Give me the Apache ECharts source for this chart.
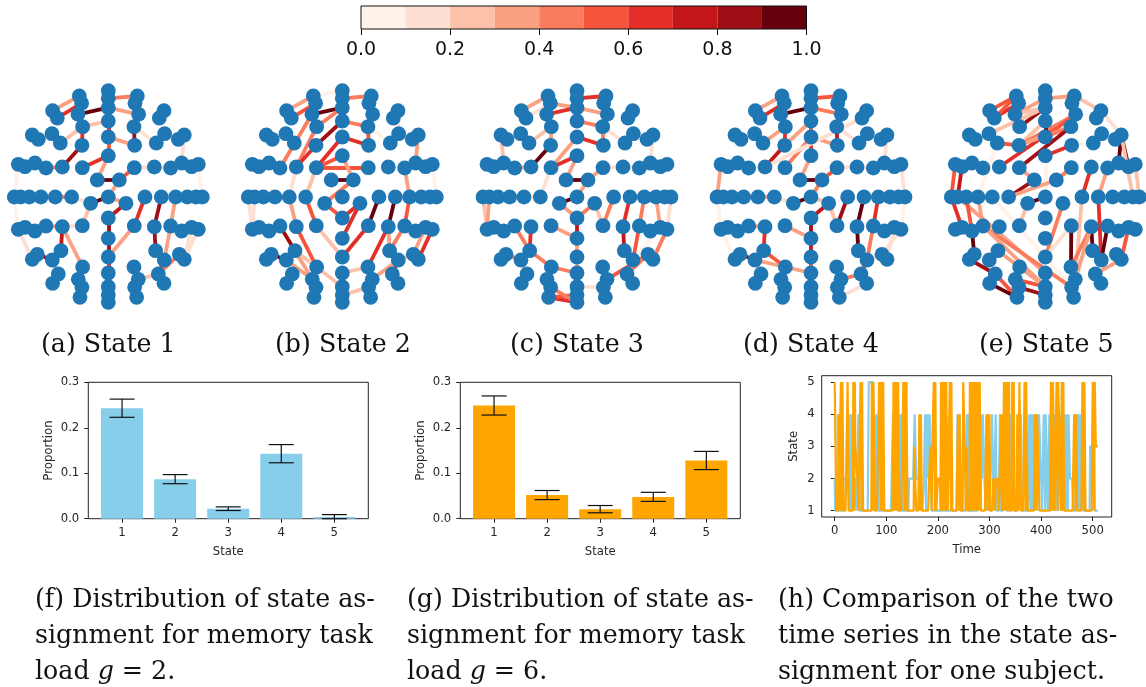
<!DOCTYPE html>
<html><head><meta charset="utf-8">
<style>html,body{margin:0;padding:0;background:#fff}#c{width:1146px;height:687px}</style>
<script src="https://cdn.jsdelivr.net/npm/echarts@6/dist/echarts.min.js"></script>
</head><body><div id="c"></div>
<script>
// ---------- colour bar ----------
const colorBins = [0,0.1,0.2,0.3,0.4,0.5,0.6,0.7,0.8,0.9];
const redsPalette = ['#fff2eb','#fee0d2','#fdc1a9','#fca082','#fb7c5c','#f6553c','#e32f27','#c2161b','#9f0e14','#67000d'];
const colorTicks = [0,0.2,0.4,0.6,0.8,1];

// ---------- electrode layout: [key, offset from midline, depth] ----------
const midNodes = [62,85,113,153,201,257,381,444,505,561,609,650,675,697];
const sideNodes = [['a',87,78],['b',80,100],['c',91,133],['d',77,170],['e',79,226],['f',167,122],['g',153,144],
 ['h',228,195],['i',210,208],['j',169,191],['k',144,219],
 ['l',270,283],['m',250,290],['n',220,279],['o',187,294],['p',138,291],['q',78,293],['r',33,330],
 ['s',282,381],['t',263,381],['u',237,381],['v',202,381],['w',159,381],['x',110,381],['y',53,400],
 ['A',270,478],['B',250,472],['C',220,483],['D',187,468],['E',138,470],['F',78,467],
 ['G',142,542],['H',168,570],['I',213,553],['J',228,568],
 ['K',77,591],['L',90,628],['M',79,652],['N',85,682],['O',150,612],['P',167,640]];

// ---------- connections per state: [from, to, strength] ----------
const state1 = [['La','Lf',.35],['Lb','Lg',.65],['Lc','M2',.95],['M1','Ra',.45],['M2','Rc',.35],['Ld','M3',.25],['M3','M4',.6],['M4','M5',.55],
 ['M4','Re',.35],['Rd','Re',.8],['Rd','Rk',.15],['Ld','Le',.65],['Ld','Lk',.25],['Le','Lp',.8],['M5','Lq',.65],['M5','Lr',.3],['Lr','Rr',.98],
 ['Rr','Rq',.55],['Rr','M6',.35],['Rq','Rp',.15],['Rp','Ro',.15],['Lo','Lp',.45],['Rh','Rn',.15],['Ll','Ls',.05],['Rl','Rs',.08],['Ls','LA',.05],
 ['LA','LJ',.1],['Lv','Lw',.35],['Lw','Lx',.4],['Lx','Ly',.15],['Ly','M6',.95],['M6','Ry',.3],['Ry','M7',.75],['Ly','LF',.2],['LE','LF',.12],
 ['LE','LG',.7],['LE','LK',.3],['LD','LE',.3],['LH','LI',.85],['LH','LO',.2],['M7','M8',.85],['M8','M9',.8],['M9','M10',.6],['M9','RF',.3],
 ['Rx','RF',.65],['Rw','RE',.85],['RE','RG',.8],['Rv','RD',.3],['RD','RH',.3],['RH','RO',.6],['RO','RI',.4],['RB','RJ',.12],['RA','RJ',.1],['RL','RO',.25]];
const state2 = [['La','Lf',.3],['Lb','Lg',.55],['La','M0',.05],['Lc','M2',.9],['Ld','M2',.4],['Lc','Lo',.4],['Lp','Ld',.45],['Lp','Le',.6],['M3','Le',.85],
 ['M1','Ra',.45],['M3','Rd',.45],['M4','Re',.6],['Rd','Re',.5],['Rd','Rk',.05],['Rf','Rj',.1],['Rh','Rn',.3],['M4','Lq',.65],['M5','Lq',.55],['Lq','Rq',.55],
 ['M5','Rr',.3],['Lr','Rr',.98],['Rr','Ly',.45],['Lq','Lx',.25],['Lp','Lw',.1],['Lw','LE',.35],['Lx','LF',.55],['LF','M9',.25],['LE','LK',.55],['Ly','M7',.5],
 ['M7','Ry',.6],['Ry','M8',.6],['M9','RF',.65],['Rx','RF',.98],['Rw','RE',.98],['RE','RK',.65],['RE','RG',.3],['Rv','RD',.55],['RD','RG',.45],['RK','M10',.25],
 ['RL','RH',.35],['RH','RO',.6],['RH','RI',.2],['RB','RI',.35],['RA','RJ',.6],['Ro','Rv',.3],['Rl','Rs',.08],['Ls','LA',.15],['Lt','LA',.1],['LD','LG',.8],
 ['LG','LL',.3],['LH','LL',.3],['LG','M11',.2],['LH','LI',.9],['M12','RM',.25]];
const state3 = [['La','Lf',.3],['Lb','Lg',.1],['Lb','M2',.35],['Lc','M2',.65],['M1','Ra',.65],['M2','Rc',.35],['M3','Rd',.45],['M4','Re',.65],['Rd','Re',.4],
 ['Rd','Rk',.15],['Ld','Lk',.25],['Ld','Le',.3],['Le','Lp',.9],['M4','Lq',.3],['M5','Lq',.65],['M5','Lr',.3],['Lr','Rr',.98],['Rr','Rq',.35],['Rr','M6',.3],
 ['Lq','Lx',.12],['Lw','Lx',.15],['Ly','M6',.9],['Ly','M7',.3],['M7','Ry',.4],['Ry','RF',.25],['Rx','RF',.45],['Rw','RE',.6],['RE','RG',.75],['Rv','RD',.4],
 ['RD','RH',.5],['Ru','RB',.3],['Rs','RA',.15],['Ls','LA',.2],['Lt','LA',.3],['M7','M8',.7],['M8','M9',.3],['M9','M10',.35],['LF','M8',.3],['LD','LG',.4],
 ['LE','LG',.65],['LG','LK',.4],['LK','M10',.4],['LG','LH',.3],['LH','LI',.45],['LH','LO',.15],['RL','RI',.55],['RO','RI',.45],['RA','RJ',.45],['RH','RB',.05],
 ['M11','RM',.12],['LN','M13',.6],['LN','M12',.5],['LM','M13',.45],['Lh','Ln',.25],['Rh','Rn',.12],['Lo','Lp',.35],['Rp','Ro',.12],['Rq','Rp',.1]];
const state4 = [['La','Lf',.35],['Lb','Lg',.65],['Lc','M2',.95],['M1','Ra',.55],['M2','Rc',.4],['Ld','Lk',.3],['Ld','Le',.6],['M3','Le',.35],['Le','Lp',.7],['M4','Lq',.45],
 ['M4','M5',.6],['M5','Lr',.35],['M3','M4',.5],['M4','Re',.35],['Rd','Re',.7],['Rd','Rk',.15],['Lp','Rg',.1],['Lr','Rr',.98],['Rr','Rq',.5],['Rr','M6',.4],['Rq','Rp',.12],
 ['Rp','Ro',.12],['Rh','Rn',.15],['Ll','Ls',.3],['Ls','LA',.08],['LA','LJ',.07],['Rl','Rs',.1],['Rs','RA',.08],['Lv','Lw',.3],['Lw','Lx',.3],['Lx','Ly',.12],['Ly','M6',.95],
 ['M6','Ry',.2],['Ry','M7',.7],['Ry','RF',.2],['Rx','RF',.8],['Rw','RE',.9],['RE','RG',.9],['Rv','RD',.6],['RD','RH',.4],['RH','RO',.5],['RH','RI',.1],['RB','RJ',.15],['RA','RI',.1],
 ['LE','LG',.65],['LD','LE',.3],['LH','LI',.85],['LG','LK',.55],['LH','LK',.3],['LK','M10',.3],['LF','M8',.3],['M7','M8',.8],['M8','M9',.7],['M9','M10',.55],['RL','RO',.4],['RN','RP',.12],['LH','LO',.2]];
const state5 = [['La','Lf',.55],['Lb','Lg',.65],['La','Lg',.5],['M1','Lc',.3],['M2','Lc',.2],['M2','Ld',.8],['M2','Lj',.25],['Lk','Le',.55],['Le','M3',.25],['M1','Ra',.35],['Ra','Rf',.2],
 ['Rf','Rh',.15],['Rh','Rn',.98],['Rh','Rm',.95],['Rh','Rt',.2],['Rl','Rs',.2],['Rc','Lp',.65],['Rc','Le',.4],['Rc','M4',.55],['Rd','Le',.35],['Rd','M4',.4],['Rd','Lq',.85],['M3','M4',.95],
 ['M5','Re',.6],['Re','Rk',.05],['M5','M6',.05],['Lq','Lr',.3],['Lr','Lx',.8],['Rr','Lx',.3],['Rr','Rq',.45],['Rp','Rx',.65],['Ro','Rw',.3],['Rw','RH',.6],['Ly','M6',.95],['Ly','LF',.2],
 ['Ry','M9',.4],['M9','RF',.15],['Rx','RL',.25],['RF','RK',.98],['RE','RK',.4],['RE','RG',.9],['RE','RL',.35],['RD','RH',.9],['RB','RJ',.55],['RJ','RO',.3],
 ['Ll','Ls',.55],['Lm','Lt',.7],['Ls','LB',.6],['Lt','M10',.35],['Lu','LC',.5],['LC','LB',.45],['LC','LI',.98],['LJ','LO',.85],['LO','LN',.55],['LM','M12',.85],['LP','LN',.95],['LL','M11',.5],
 ['Lw','RM',.08],['Lk','Lv',.08],['Lv','LD',.35],['LD','RM',.4],['LD','M11',.35],['LG','M11',.3]];
const allStates = [state1,state2,state3,state4,state5];

// ---------- bar charts ----------
const stateLabels = [1,2,3,4,5];
const meanLoad2 = [0.243,0.087,0.022,0.143,0.004];
const errLoad2  = [0.020,0.010,0.004,0.020,0.005];
const meanLoad6 = [0.249,0.052,0.021,0.048,0.128];
const errLoad6  = [0.021,0.010,0.008,0.010,0.020];
const proportionTicks = [0,0.1,0.2,0.3];
const timeTicks = [0,100,200,300,400,500];

const runsLoad2 = [[2,1],[1,5],[4,2],[1,9],[2,11],[1,2],[4,2],[1,1],[4,2],[2,7],[1,4],[4,2],[1,18],[5,12],[1,2],[4,2],[1,1],[4,2],[1,28],[4,2],[1,1],[4,1],[2,5],[1,5],[4,2],[1,1],[4,1],[1,13],[2,11],[4,3],[2,12],[1,3],[2,2],[4,2],[1,1],[4,1],[2,1],[4,3],[2,1],[4,2],[2,2],
 [1,50],[4,3],[1,1],[4,4],[1,10],[4,2],[1,1],[4,2],[1,20],[4,2],[1,1],[4,1],[2,2],[4,3],[2,3],[1,3],[4,3],[1,3],[2,3],[4,3],[1,4],[4,2],[1,6],[4,2],[1,8],[4,3],[1,8],[4,3],[1,1],[4,2],[1,10],[4,3],[1,1],[4,2],[1,14],[4,3],[1,1],[4,3],[1,1],[4,3],[1,1],[4,1],[1,2],[4,3],[1,1],[4,4],[2,2],[1,3],[4,3],[1,1],[4,4],[1,3],[4,3],[1,2],[4,3],[1,1],[4,3],[1,2],[4,3],[1,4],[4,3],[1,1],[4,3],[1,1],[4,3],[1,1],[4,3],[1,1],[4,3],[2,7],[1,6],[4,3],[1,1],[4,3],[1,1],[4,2],[3,3],[1,13],[3,6],[4,3],[1,9],[4,10]];
const runsLoad6 = [[5,3],[1,5],[4,2],[1,1],[4,1],[5,2],[1,1],[5,2],[1,8],[5,2],[1,9],[5,2],[1,1],[5,1],[3,4],[2,2],[1,4],[5,2],[1,1],[5,2],[1,17],[5,2],[1,1],[5,3],[1,8],[5,3],[1,1],[5,3],[1,1],[5,2],[1,18],[5,2],[1,1],[5,1],[1,2],[5,2],[1,1],[5,2],[1,8],[5,2],[1,1],[5,2],[1,1],[5,2],[1,13],[3,4],[1,6],[4,2],[1,1],[4,2],[1,16],[3,3],[1,1],[3,3],[5,2],[1,1],[5,2],[1,3],[2,5],[1,1],[5,2],[1,1],[5,2],[1,1],[5,3],[1,1],[5,3],[1,4],[5,2],[1,1],[5,2],[1,11],[4,2],[1,1],[4,2],[1,5],[5,3],[3,2],[1,1],[3,2],[1,5],
 [5,3],[1,1],[5,3],[1,1],[5,3],[1,1],[5,2],[1,1],[5,3],[1,1],[5,2],[1,11],[4,2],[1,1],[4,2],[1,1],[4,1],[1,6],[2,4],[1,1],[2,6],[1,3],[3,1],[4,2],[1,1],[4,1],[1,2],[5,2],[1,1],[5,3],[1,1],[5,2],[1,1],[5,1],[1,5],[5,2],[1,1],[5,1],[1,6],[4,2],[1,2],[5,3],[1,7],[5,2],[1,1],[5,3],[1,14],[4,3],[1,1],[4,2],[3,3],[1,22],[5,3],[1,1],[5,3],[1,4],[5,2],[1,1],[5,3],[3,2],[1,1],[3,1],[5,2],[1,1],[5,2],[1,19],[4,3],[1,1],[4,2],[1,10],[5,3],[1,1],[5,2],[1,14],[5,3],[1,1],[5,2],[3,9],[1,4]];

// ---------- captions ----------
const subCaptions = ['(a) State 1','(b) State 2','(c) State 3','(d) State 4','(e) State 5'];
const figCaptionsF = ['(f) Distribution of state as-','signment for memory task','load {i|g} = 2.'];
const figCaptionsG = ['(g) Distribution of state as-','signment for memory task','load {i|g} = 6.'];
const figCaptionsH = ['(h) Comparison of the two','time series in the state as-','signment for one subject.'];

const nodePos = {};
midNodes.forEach((y,i)=>{nodePos['M'+i]=[0,y];});
sideNodes.forEach(([k,dx,y])=>{nodePos['L'+k]=[-dx,y];nodePos['R'+k]=[dx,y];});
const expand = runs => { const out=[]; let t=0; runs.forEach(([s,n])=>{for(let i=0;i<n;i++) out.push([t++,s]);}); return out.slice(0,512); };
const binColor = v => redsPalette[Math.min(9,Math.floor(v*10))];

const centers = [108.3,342.3,577,811,1045.3];
const grid=[],xAxis=[],yAxis=[],series=[];
const hidden = {show:false};
centers.forEach((cx,i)=>{
  grid.push({left:cx-100,top:83.33,width:200,height:226.67});
  xAxis.push({type:'value',gridIndex:i,min:-300,max:300,show:false,splitLine:hidden});
  yAxis.push({type:'value',gridIndex:i,min:40,max:720,inverse:true,show:false,splitLine:hidden});
  series.push({type:'lines',coordinateSystem:'cartesian2d',xAxisIndex:i,yAxisIndex:i,polyline:false,silent:true,z:2,clip:false,
    data:allStates[i].map(([a,b,v])=>({coords:[nodePos[a],nodePos[b]],lineStyle:{color:binColor(v),width:3.8,opacity:1}})),
    lineStyle:{curveness:0}});
  series.push({type:'scatter',xAxisIndex:i,yAxisIndex:i,symbolSize:14.8,silent:true,z:3,clip:false,
    itemStyle:{color:'#1f77b4',opacity:1},data:Object.values(nodePos)});
});
// colour bar
grid.push({left:361,top:6,width:445.5,height:23,show:true,borderColor:'#111',borderWidth:1,z:5});
xAxis.push({type:'value',gridIndex:5,min:0,max:1,interval:0.2,splitLine:hidden,axisLine:hidden,
  axisTick:{show:true,length:6,lineStyle:{color:'#111',width:1}},
  axisLabel:{fontFamily:'DejaVu Sans',fontSize:19,color:'#111',margin:12,formatter:v=>v.toFixed(1),customValues:colorTicks}});
yAxis.push({type:'value',gridIndex:5,min:0,max:1,show:false,splitLine:hidden});
series.push({type:'custom',xAxisIndex:5,yAxisIndex:5,silent:true,data:colorBins.map((b,i)=>[b,b+0.1,i]),
  renderItem:(p,api)=>{const a=api.coord([api.value(0),1]),b=api.coord([api.value(1),0]);
    return {type:'rect',shape:{x:a[0],y:a[1],width:b[0]-a[0],height:b[1]-a[1]},style:{fill:redsPalette[api.value(2)]}};}});

const axisFont = {fontFamily:'DejaVu Sans',fontSize:11.7,color:'#262626'};
const tick = {show:true,length:4,lineStyle:{color:'#222',width:1}};
function barPanel(idx,left,means,errs,color){
  grid.push({left,top:382.3,width:280,height:136.4,show:true,borderColor:'#222',borderWidth:1,backgroundColor:'transparent'});
  xAxis.push({type:'value',gridIndex:idx,min:0.364,max:5.64,splitLine:hidden,axisLine:hidden,axisTick:{...tick,customValues:stateLabels},
    axisLabel:{...axisFont,margin:8,customValues:stateLabels},name:'State',nameLocation:'middle',nameGap:27,nameTextStyle:axisFont});
  yAxis.push({type:'value',gridIndex:idx,min:0,max:0.3,interval:0.1,splitLine:hidden,axisLine:hidden,axisTick:tick,
    axisLabel:{...axisFont,margin:9,formatter:v=>v.toFixed(1),customValues:proportionTicks},name:'Proportion',nameLocation:'middle',nameGap:33,nameTextStyle:axisFont});
  series.push({type:'bar',xAxisIndex:idx,yAxisIndex:idx,barWidth:42,silent:true,itemStyle:{color},data:means.map((m,i)=>[stateLabels[i],m])});
  series.push({type:'custom',xAxisIndex:idx,yAxisIndex:idx,silent:true,z:4,clip:false,data:means.map((m,i)=>[stateLabels[i],Math.max(0,m-errs[i]),m+errs[i]]),
    renderItem:(p,api)=>{const a=api.coord([api.value(0),api.value(1)]),b=api.coord([api.value(0),api.value(2)]);
      const st={stroke:'#111',lineWidth:1.2};
      return {type:'group',children:[
        {type:'line',shape:{x1:a[0],y1:a[1],x2:b[0],y2:b[1]},style:st},
        {type:'line',shape:{x1:a[0]-12.5,y1:a[1],x2:a[0]+12.5,y2:a[1]},style:st},
        {type:'line',shape:{x1:b[0]-12.5,y1:b[1],x2:b[0]+12.5,y2:b[1]},style:st}]};}});
}
barPanel(6,88.3,meanLoad2,errLoad2,'#87ceeb');
barPanel(7,460.3,meanLoad6,errLoad6,'#ffa500');
// time series
grid.push({left:821.7,top:375.7,width:290,height:141.3,show:true,borderColor:'#222',borderWidth:1});
xAxis.push({type:'value',gridIndex:8,min:-25.2,max:536.8,splitLine:hidden,axisLine:hidden,axisTick:{...tick,customValues:timeTicks},
  axisLabel:{...axisFont,margin:8,customValues:timeTicks},name:'Time',nameLocation:'middle',nameGap:27,nameTextStyle:axisFont});
yAxis.push({type:'value',gridIndex:8,min:0.804,max:5.2,splitLine:hidden,axisLine:hidden,axisTick:{...tick,customValues:stateLabels},
  axisLabel:{...axisFont,margin:7,customValues:stateLabels},name:'State',nameLocation:'middle',nameGap:22,nameTextStyle:axisFont});
[[runsLoad2,'#87ceeb'],[runsLoad6,'#ffa500']].forEach(([r,c])=>{
  series.push({type:'line',xAxisIndex:8,yAxisIndex:8,data:expand(r),showSymbol:false,silent:true,lineStyle:{color:c,width:2.2},z:2});
});

const capFont = '25.3px "DejaVu Serif"';
const graphic=[];
const addText=(x,y,t)=>graphic.push({type:'text',x,y,style:{text:t,font:capFont,fill:'#111',verticalAlign:'middle',rich:{i:{font:'italic 25.3px "DejaVu Serif"',fill:'#111'}}}});
[41,275,510,743,979].forEach((x,i)=>addText(x,345,subCaptions[i]));
[[35,figCaptionsF],[407,figCaptionsG],[778,figCaptionsH]].forEach(([x,ls])=>ls.forEach((t,i)=>addText(x,600+i*36,t)));

const chart = echarts.init(document.getElementById('c'),null,{renderer:'canvas'});
chart.setOption({animation:false,backgroundColor:'#fff',tooltip:{show:false},grid,xAxis,yAxis,series,graphic});
</script></body></html>
